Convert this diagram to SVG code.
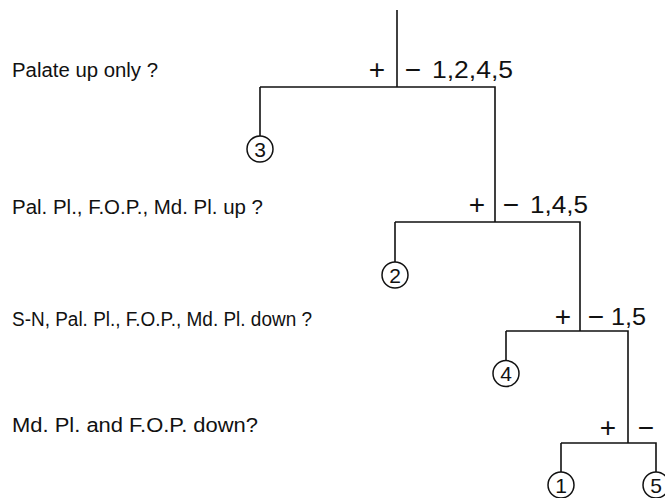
<svg xmlns="http://www.w3.org/2000/svg" width="665" height="498" viewBox="0 0 665 498">
<style>
.q{font-family:"Liberation Sans",Arial,sans-serif;font-size:20px;fill:#111}
.lb{font-family:"Liberation Sans",Arial,sans-serif;font-size:23px;fill:#111}
.pm{font-family:"Liberation Sans",Arial,sans-serif;font-size:28px;fill:#111;text-anchor:middle}
.ln{stroke:#111;stroke-width:1.6;fill:none}
.leaf circle{fill:#fff;stroke:#111;stroke-width:1.5}
.leaf text{font-family:"Liberation Sans",Arial,sans-serif;font-size:21px;fill:#111;text-anchor:middle}
</style>
<rect width="665" height="498" fill="#fff"/>
<g id="questions">
<text id="q1" class="q" x="12" y="77" textLength="146" lengthAdjust="spacingAndGlyphs">Palate up only ?</text>
<text id="q2" class="q" x="12" y="214" textLength="251" lengthAdjust="spacingAndGlyphs">Pal. Pl., F.O.P., Md. Pl. up ?</text>
<text id="q3" class="q" x="12" y="326" textLength="300" lengthAdjust="spacingAndGlyphs">S-N, Pal. Pl., F.O.P., Md. Pl. down ?</text>
<text id="q4" class="q" x="12" y="432" textLength="246" lengthAdjust="spacingAndGlyphs">Md. Pl. and F.O.P. down?</text>
</g>
<g id="connectors" class="ln">
<path d="M397,10 V87"/>
<path d="M260,87 H495 V222"/>
<path d="M260,87 V136"/>
<path d="M395,222 H580 V331"/>
<path d="M395,222 V262"/>
<path d="M506,331 H628 V443"/>
<path d="M506,331 V360"/>
<path d="M561,443 H656 V472"/>
<path d="M561,443 V472"/>
</g>
<g id="split1">
<text class="pm" x="377" y="79">+</text>
<text class="pm" x="413" y="79">−</text>
<text class="lb" x="432" y="78" textLength="81" lengthAdjust="spacingAndGlyphs">1,2,4,5</text>
</g>
<g id="split2">
<text class="pm" x="477" y="214">+</text>
<text class="pm" x="511" y="214">−</text>
<text class="lb" x="530" y="213" textLength="58" lengthAdjust="spacingAndGlyphs">1,4,5</text>
</g>
<g id="split3">
<text class="pm" x="563" y="326">+</text>
<text class="pm" x="596" y="326">−</text>
<text class="lb" x="611" y="325" textLength="35" lengthAdjust="spacingAndGlyphs">1,5</text>
</g>
<g id="split4">
<text class="pm" x="608" y="437">+</text>
<text class="pm" x="646" y="437">−</text>
</g>
<g id="leaf3" class="leaf"><circle cx="260" cy="149" r="13"/><text x="260" y="156.5">3</text></g>
<g id="leaf2" class="leaf"><circle cx="395" cy="275" r="13"/><text x="395" y="282.5">2</text></g>
<g id="leaf4" class="leaf"><circle cx="506" cy="373.5" r="13"/><text x="506" y="381">4</text></g>
<g id="leaf1" class="leaf"><circle cx="561" cy="485" r="13"/><text x="561" y="492.5">1</text></g>
<g id="leaf5" class="leaf"><circle cx="656" cy="485" r="13"/><text x="656" y="492.5">5</text></g>
</svg>
